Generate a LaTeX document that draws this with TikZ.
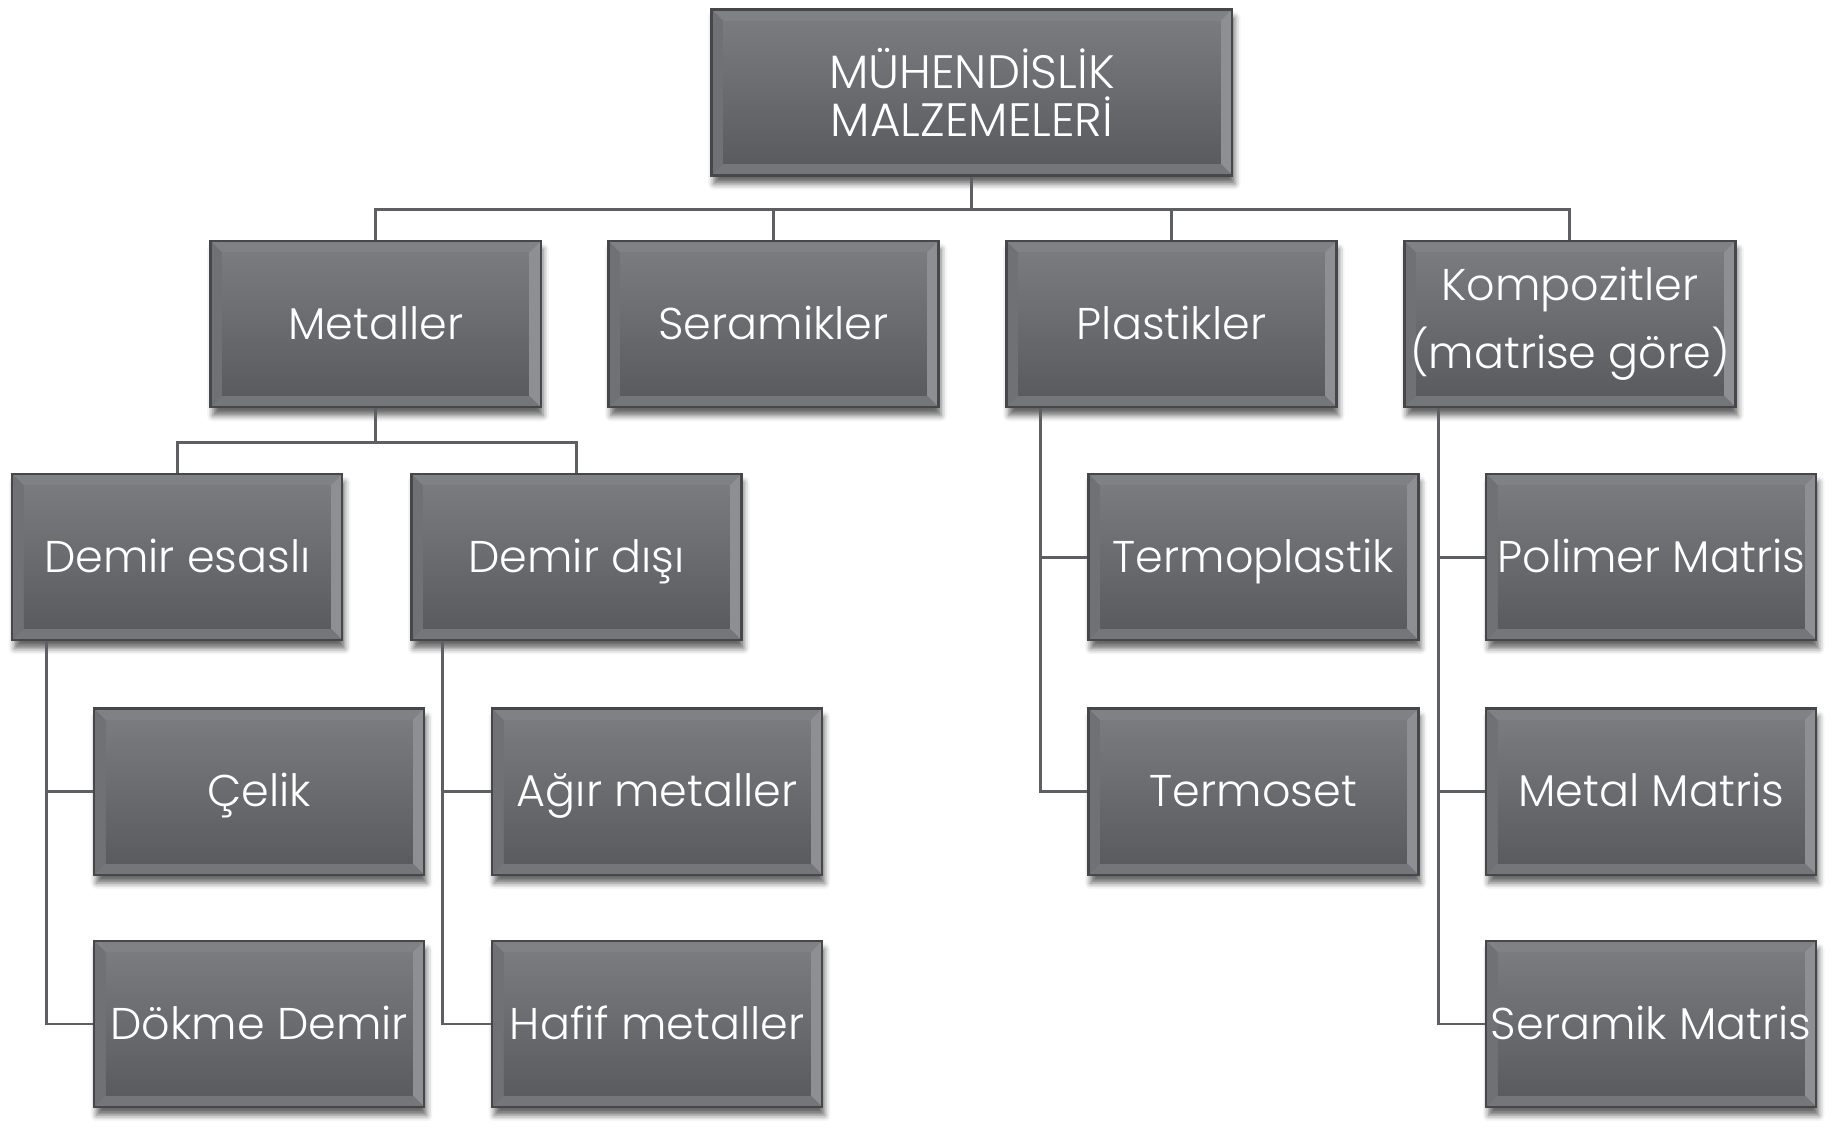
\documentclass[tikz,border=0pt]{standalone}
\usepackage{fontspec}
\IfFontExistsTF{Poppins Light}{\setmainfont{Poppins Light}}{\setmainfont{Poppins}}
\usetikzlibrary{shadows.blur}
\definecolor{boxtop}{HTML}{7A7B7F}
\definecolor{boxbot}{HTML}{5A5B5F}
\definecolor{bevT}{HTML}{808185}
\definecolor{bevL}{HTML}{707175}
\definecolor{bevR}{HTML}{8E8F93}
\definecolor{bevB}{HTML}{75767A}
\definecolor{edge}{HTML}{46474B}
\definecolor{conn}{HTML}{5E5F62}
\tikzset{
  bx/.style={rectangle, minimum width=282pt, minimum height=142pt, inner sep=0pt,
    top color=boxtop, bottom color=boxbot, draw=edge, line width=2pt,
    text=white, font=\fontsize{38}{46}\selectfont, align=center,
    blur shadow={shadow xshift=2pt, shadow yshift=-7pt, shadow blur radius=5pt, shadow opacity=60},
    path picture={
      \fill[bevT] (path picture bounding box.north west) -- (path picture bounding box.north east)
        -- ([shift={(-10pt,-10pt)}]path picture bounding box.north east) -- ([shift={(10pt,-10pt)}]path picture bounding box.north west) -- cycle;
      \fill[bevL] (path picture bounding box.north west) -- (path picture bounding box.south west)
        -- ([shift={(10pt,10pt)}]path picture bounding box.south west) -- ([shift={(10pt,-10pt)}]path picture bounding box.north west) -- cycle;
      \fill[bevR] (path picture bounding box.north east) -- (path picture bounding box.south east)
        -- ([shift={(-10pt,10pt)}]path picture bounding box.south east) -- ([shift={(-10pt,-10pt)}]path picture bounding box.north east) -- cycle;
      \fill[bevB] (path picture bounding box.south west) -- (path picture bounding box.south east)
        -- ([shift={(-10pt,10pt)}]path picture bounding box.south east) -- ([shift={(10pt,10pt)}]path picture bounding box.south west) -- cycle;
      \shade[top color=boxtop, bottom color=boxbot] ([shift={(10pt,-10pt)}]path picture bounding box.north west) rectangle ([shift={(-10pt,10pt)}]path picture bounding box.south east);
    }},
  bxs/.style={bx, text height=30pt, text depth=4pt},
  topbx/.style={bx, minimum width=445pt, font=\fontsize{40}{41}\selectfont},
  ln/.style={draw=conn, line width=2.5pt}
}
\begin{document}
\begin{tikzpicture}[x=1pt,y=-1pt]
\useasboundingbox (0,0) rectangle (1568,975);
\node[topbx] (top) at (830.5,79) {MÜHENDİSLİK\\MALZEMELERİ};
\node[bxs] (met) at (321,277) {Metaller};
\node[bxs] (ser) at (661,277) {Seramikler};
\node[bxs] (pla) at (1001,277) {Plastikler};
\node[bx, minimum width=283pt, font=\fontsize{38}{58}\selectfont] (kom) at (1341.5,277) {Kompozitler\\(matrise göre)};
\node[bxs] (de) at (151.5,476) {Demir esaslı};
\node[bxs] (dd) at (492.5,476) {Demir dışı};
\node[bxs] (tp) at (1071,476) {Termoplastik};
\node[bxs] (pm) at (1411,476) {Polimer Matris};
\node[bxs] (cel) at (221.5,676.5) {Çelik};
\node[bxs] (ag) at (561.5,676.5) {Ağır metaller};
\node[bxs] (ts) at (1071,676.5) {Termoset};
\node[bxs] (mm) at (1411,676.5) {Metal Matris};
\node[bxs] (dk) at (221.5,875) {Dökme Demir};
\node[bxs] (hf) at (561.5,875) {Hafif metaller};
\node[bxs] (sm) at (1411,875) {Seramik Matris};
\foreach \c in {met,ser,pla,kom}{\draw[ln] (top.south) -- ++(0,28) -| (\c.north);}
\foreach \c in {de,dd}{\draw[ln] (met.south) -- ++(0,29) -| (\c.north);}
\foreach \c in {cel,dk}{\draw[ln] ([xshift=30pt]de.south west) |- (\c.west);}
\foreach \c in {ag,hf}{\draw[ln] ([xshift=28pt]dd.south west) |- (\c.west);}
\foreach \c in {tp,ts}{\draw[ln] ([xshift=30pt]pla.south west) |- (\c.west);}
\foreach \c in {pm,mm,sm}{\draw[ln] ([xshift=30pt]kom.south west) |- (\c.west);}
\end{tikzpicture}
\end{document}
